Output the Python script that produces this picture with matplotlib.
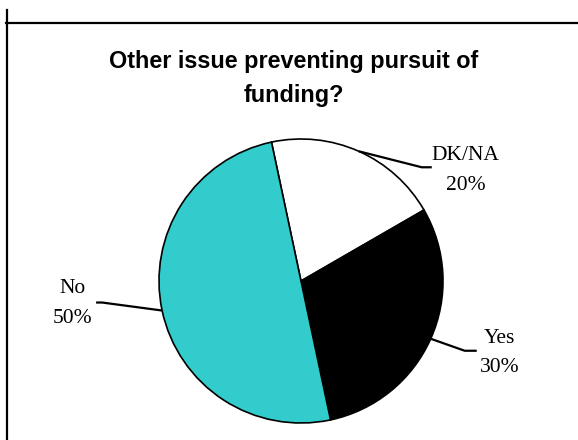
import matplotlib
matplotlib.use('Agg')
import matplotlib.pyplot as plt
from matplotlib import font_manager
from matplotlib.lines import Line2D
import numpy as np

######################################################
# Data
######################################################

labels = ['DK/NA', 'Yes', 'No']
shares = [20, 30, 50]
colors = ['#ffffff', '#000000', '#33cccc']
title = 'Other issue preventing pursuit of\nfunding?'

######################################################
# Layout (pixel units, y up)
######################################################

W, H = 578, 440
CX, CY, R = 301, H - 281, 142
# leader line: elbow offset from rim point, shoulder length, text offset from end
leader = {
    'DK/NA': dict(elbow=(63, -16), shoulder=10, text=(34, -3)),
    'Yes': dict(elbow=(34, -12), shoulder=12, text=(23, -2)),
    'No': dict(elbow=(-60, 8), shoulder=-6, text=(-24, -1)),
}


def font_file(name, weight):
    for f in font_manager.fontManager.ttflist:
        if f.name == name and f.weight == weight and f.style == 'normal':
            return font_manager.FontProperties(fname=f.fname)
    return font_manager.FontProperties(family='DejaVu Sans', weight=weight)


title_font = font_file('Liberation Sans', 700)
label_font = font_file('Liberation Serif', 400)

fig = plt.figure(figsize=(W / 100, H / 100), dpi=100)
ax = fig.add_axes([0, 0, 1, 1])

wedges, _ = ax.pie(shares, colors=colors, startangle=102, counterclock=False,
                   center=(CX, CY), radius=R, frame=True,
                   wedgeprops=dict(edgecolor='black', linewidth=1.2))
ax.set_xlim(0, W)
ax.set_ylim(0, H)
ax.set_aspect('equal')
ax.axis('off')

for w, lab, val in zip(wedges, labels, shares):
    mid = np.deg2rad((w.theta1 + w.theta2) / 2)
    x0, y0 = CX + R * np.cos(mid), CY + R * np.sin(mid)
    st = leader[lab]
    x1, y1 = x0 + st['elbow'][0], y0 + st['elbow'][1]
    x2, y2 = x1 + st['shoulder'], y1
    ax.plot([x0, x1, x2], [y0, y1, y2], color='black', lw=1.6,
            solid_capstyle='butt')
    ax.text(x2 + st['text'][0], y2 + st['text'][1], '{}\n{}%'.format(lab, val),
            ha='center', va='center', multialignment='center',
            fontproperties=label_font, fontsize=15.5, linespacing=1.75)

ax.text(294, H - 78.5, title, ha='center', va='center',
        fontproperties=title_font, fontsize=16.8, linespacing=1.62)

# frame lines at top and left
fig.add_artist(Line2D([6 / W, 1], [1 - 23 / H, 1 - 23 / H], color='black',
                      lw=1.6, transform=fig.transFigure))
fig.add_artist(Line2D([7 / W, 7 / W], [0, 1 - 10 / H], color='black',
                      lw=1.6, transform=fig.transFigure))

fig.savefig('out.png', dpi=100)
